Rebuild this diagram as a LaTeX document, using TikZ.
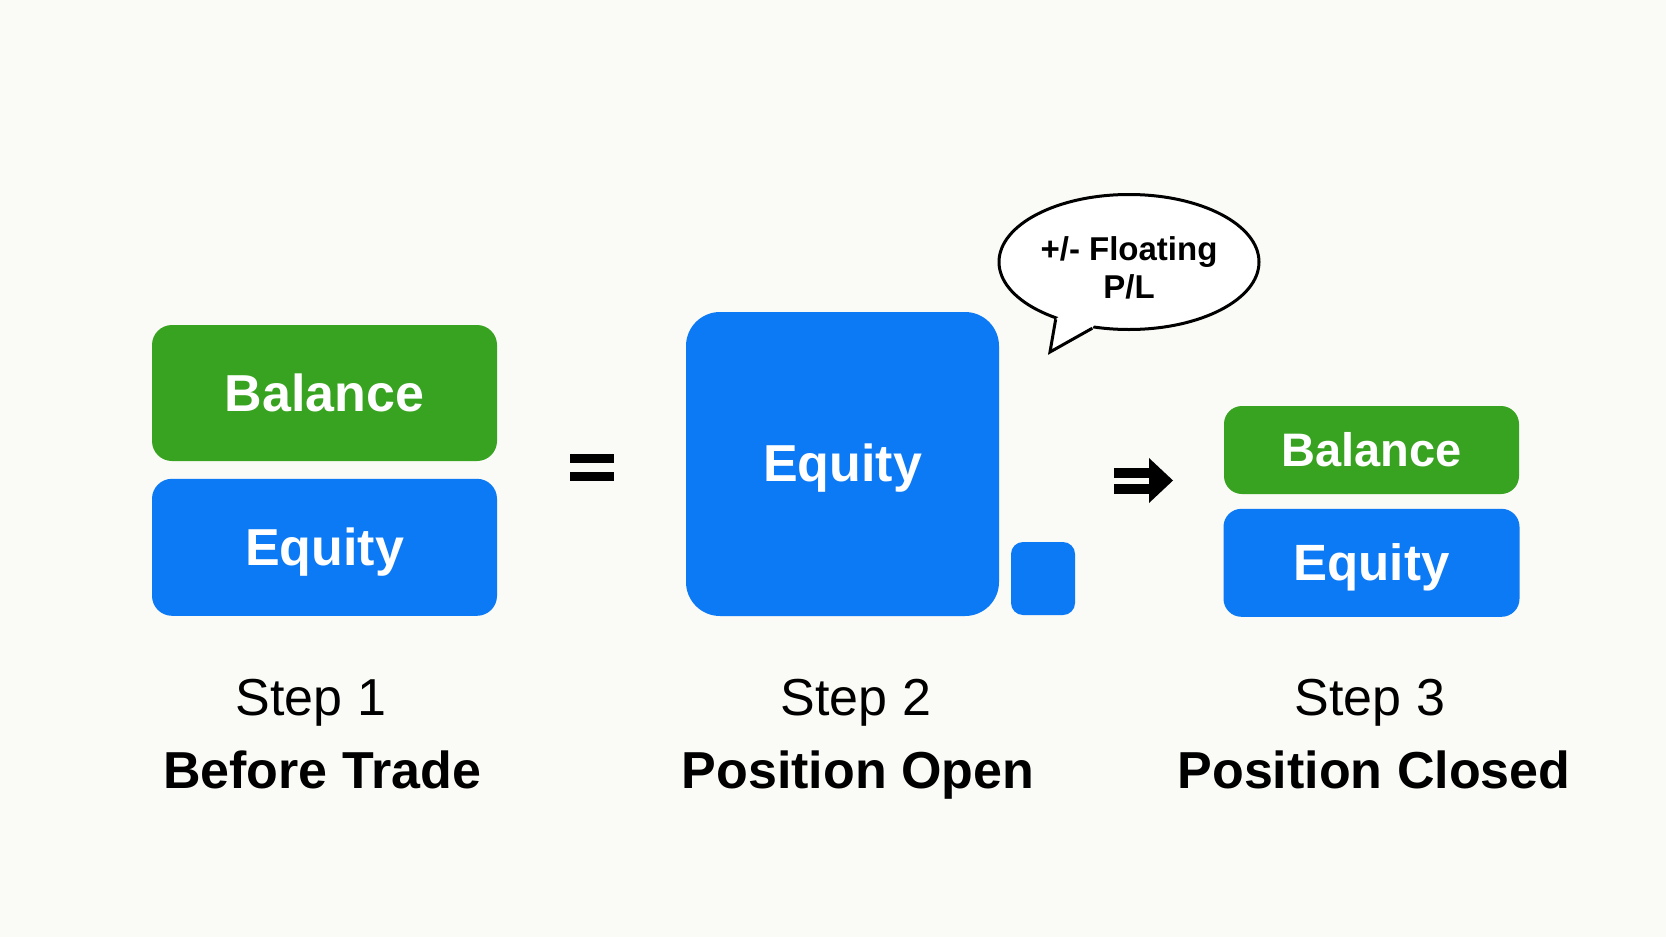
\documentclass[tikz,border=0pt]{standalone}
\usepackage{fontspec}
\setmainfont{Liberation Sans}
\usetikzlibrary{shapes.geometric, positioning, calc}
\definecolor{balgreen}{RGB}{56,163,32}
\definecolor{eqblue}{RGB}{12,122,245}
\definecolor{bgpaper}{RGB}{250,250,246}

\begin{document}
\begin{tikzpicture}[
  x=0.5pt, y=-0.5pt,
  box/.style={rectangle, rounded corners=10pt, inner sep=0pt, text=white,
              font=\bfseries\fontsize{26}{30}\selectfont},
  bal/.style={box, fill=balgreen},
  eqty/.style={box, fill=eqblue, text depth=0.1em},
  steplbl/.style={anchor=base, font=\fontsize{26}{30}\selectfont},
  titlelbl/.style={anchor=base, font=\bfseries\fontsize{26}{30}\selectfont},
  bubble/.style={ellipse, draw, line width=1.5pt, fill=white, inner sep=0pt,
                 minimum width=130pt, minimum height=67.5pt},
  bubbletext/.style={align=center, font=\bfseries\fontsize{16.5}{19}\selectfont},
]
  % background
  \fill[bgpaper] (0,0) rectangle (1666,937);

  % step 1
  \node[bal, minimum width=172.5pt, minimum height=68pt] (bal1) at (324.5,393) {Balance};
  \node[eqty, minimum width=172.5pt, minimum height=68.5pt, below=8.5pt of bal1] (eq1) {Equity};

  % equals sign
  \coordinate (eqsign) at (592,467.5);
  \fill ($(eqsign)+(-22,-13.5)$) rectangle ++(44,9);
  \fill ($(eqsign)+(-22,4.5)$) rectangle ++(44,9);

  % step 2
  \node[eqty, rounded corners=17pt, minimum width=156.5pt, minimum height=152pt] (eq2) at (842.5,464) {Equity};
  \node[eqty, rounded corners=6pt, minimum width=32pt, minimum height=36.5pt] (pl) at (1043,578.5) {};

  % floating P/L bubble
  \node[bubble] (float) at (1129,262) {};
  \coordinate (tail) at (1050,352);
  \fill[white] ($(float.center)!0.93!(float.218)$) -- (float.218) -- (tail)
    -- (float.241) -- ($(float.center)!0.93!(float.241)$) -- cycle;
  \draw[line width=1.5pt, line join=miter] (float.218) -- (tail) -- (float.241);
  \node[bubbletext] (floattxt) at (1129,268) {+/- Floating\\P/L};

  % implies arrow
  \coordinate (impl) at (1114,480.5);
  \fill ($(impl)+(0,-12.5)$) rectangle ++(38,10);
  \fill ($(impl)+(0,3)$) rectangle ++(38,10);
  \fill ($(impl)+(35,-22.5)$) -- ++(24,22.5) -- ++(-24,22.5) -- cycle;

  % step 3
  \node[bal, rounded corners=9pt, minimum width=147.5pt, minimum height=44pt,
        font=\bfseries\fontsize{23.5}{28}\selectfont] (bal3) at (1371.5,450) {Balance};
  \node[eqty, rounded corners=9pt, minimum width=148pt, minimum height=54pt,
        font=\bfseries\fontsize{25.5}{30}\selectfont, below=7pt of bal3] (eq3) {Equity};

  % captions
  \node[steplbl]  (s1) at (311,715) {Step 1};
  \node[titlelbl] (t1) at (322,788) {Before Trade};
  \node[steplbl]  (s2) at (856,715) {Step 2};
  \node[titlelbl] (t2) at (858,788) {Position Open};
  \node[steplbl]  (s3) at (1370,715) {Step 3};
  \node[titlelbl] (t3) at (1374,788) {Position Closed};
\end{tikzpicture}
\end{document}
